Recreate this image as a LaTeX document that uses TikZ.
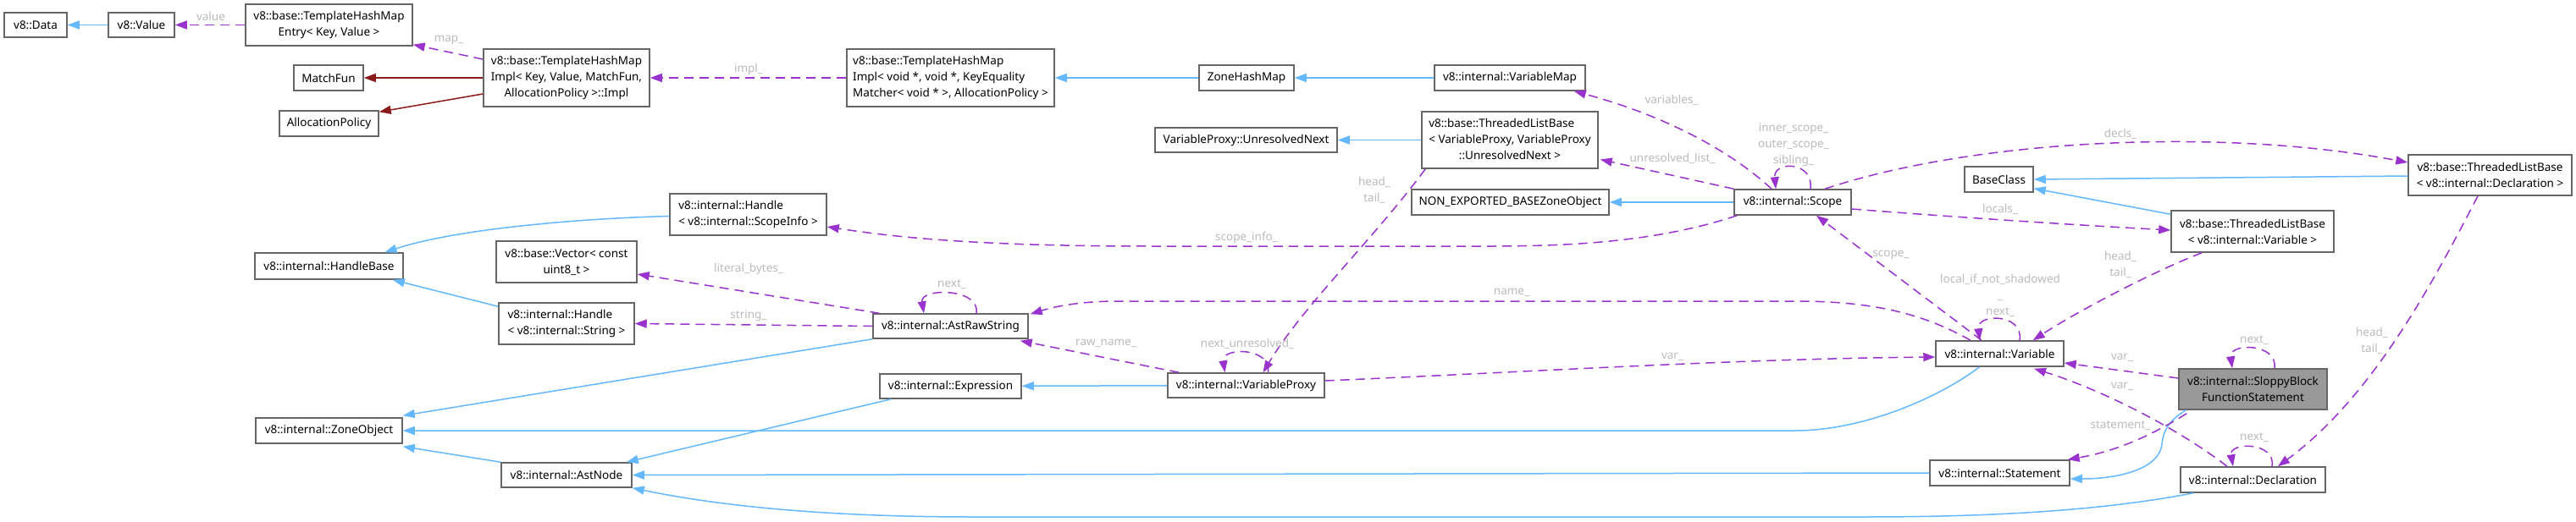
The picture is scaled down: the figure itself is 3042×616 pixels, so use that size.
\documentclass[tikz,border=0pt]{standalone}
\usepackage{fontspec}
\setmainfont{Noto Sans}
\usetikzlibrary{arrows.meta}
\definecolor{inhblue}{HTML}{63B8FF}
\definecolor{usepurple}{HTML}{9A32CD}
\definecolor{tmplred}{HTML}{8B1A1A}
\definecolor{bordergray}{HTML}{666666}
\definecolor{lblgray}{HTML}{BBBBBB}
\definecolor{mainfill}{HTML}{999999}
\begin{document}
\begin{tikzpicture}[x=1pt,y=-1pt,
  font=\fontsize{13.5}{19}\selectfont,
  box/.style={draw=bordergray, line width=1.5pt, fill=white, inner sep=0pt, align=center},
  mainbox/.style={box, fill=mainfill},
  lbl/.style={text=lblgray, inner sep=0pt, align=center},
  tip/.style={-{Triangle[length=14pt,width=10pt]}},
  inh/.style={draw=inhblue, line width=1.5pt, tip},
  usage/.style={draw=usepurple, line width=1.5pt, dash pattern=on 11pt off 7pt, tip},
  tmpl/.style={draw=tmplred, line width=1.5pt, tip},
]
\fill[white] (0,0) rectangle (3042,616);
\useasboundingbox (0,0) rectangle (3042,616);

% nodes
\node[box, minimum width=74pt, minimum height=29pt] (data) at (42,29.5) {v8::Data};
\node[box, minimum width=78pt, minimum height=29pt] (value) at (167,29.5) {v8::Value};
\node[box, minimum width=197pt, minimum height=49pt] (entry) at (388.5,29.5) {v8::base::TemplateHashMap\\Entry< Key, Value >};
\node[box, minimum width=82pt, minimum height=30pt] (matchfun) at (388,92) {MatchFun};
\node[box, minimum width=117pt, minimum height=30pt] (allocpol) at (388.5,146) {AllocationPolicy};
\node[box, minimum width=196pt, minimum height=68pt] (implkv) at (669,92) {v8::base::TemplateHashMap\\Impl< Key, Value, MatchFun,\\AllocationPolicy >::Impl};
\node[box, align=left, minimum width=245pt, minimum height=68pt] (implvoid) at (1122.5,92) {v8::base::TemplateHashMap\\Impl< void *, void *, KeyEquality\\Matcher< void * >, AllocationPolicy >};
\node[box, minimum width=112pt, minimum height=30pt] (zonehashmap) at (1472,92) {ZoneHashMap};
\node[box, minimum width=178pt, minimum height=30pt] (variablemap) at (1783,92) {v8::internal::VariableMap};
\node[box, minimum width=215pt, minimum height=29pt] (unresnext) at (1471.5,165.5) {VariableProxy::UnresolvedNext};
\node[box, minimum width=208pt, minimum height=67pt] (tlbvp) at (1783,165.5) {\begin{tabular}{@{}l@{}}v8::base::ThreadedListBase\\< VariableProxy, VariableProxy\\\multicolumn{1}{@{}c@{}}{::UnresolvedNext >}\end{tabular}};
\node[box, minimum width=233pt, minimum height=30pt] (nonexp) at (1783.5,239) {NON\_EXPORTED\_BASEZoneObject};
\node[box, minimum width=138pt, minimum height=30pt] (scope) at (2117,239) {v8::internal::Scope};
\node[box, minimum width=81pt, minimum height=30pt] (baseclass) at (2360.5,212) {BaseClass};
\node[box, minimum width=193pt, minimum height=48pt] (tlbdecl) at (2940.5,207) {v8::base::ThreadedListBase\\< v8::internal::Declaration >};
\node[box, minimum width=192pt, minimum height=49pt] (tlbvar) at (2660,273.5) {v8::base::ThreadedListBase\\< v8::internal::Variable >};
\node[box, align=left, minimum width=185pt, minimum height=49pt] (handlescope) at (883.5,253.5) {v8::internal::Handle\\< v8::internal::ScopeInfo >};
\node[box, minimum width=175pt, minimum height=31pt] (handlebase) at (388.5,314.5) {v8::internal::HandleBase};
\node[box, minimum width=166pt, minimum height=49pt] (vector) at (669,309.5) {v8::base::Vector< const\\uint8\_t >};
\node[box, align=left, minimum width=160pt, minimum height=49pt] (handlestring) at (669,382.5) {v8::internal::Handle\\< v8::internal::String >};
\node[box, minimum width=183pt, minimum height=29pt] (astrawstring) at (1122.5,385.5) {v8::internal::AstRawString};
\node[box, minimum width=167pt, minimum height=29pt] (expression) at (1122.5,456.5) {v8::internal::Expression};
\node[box, minimum width=185pt, minimum height=29pt] (varproxy) at (1471.5,455.5) {v8::internal::VariableProxy};
\node[box, minimum width=151pt, minimum height=30pt] (variable) at (2361.5,418) {v8::internal::Variable};
\node[mainbox, minimum width=175pt, minimum height=48pt] (sloppy) at (2660.5,460) {v8::internal::SloppyBlock\\FunctionStatement};
\node[box, minimum width=173pt, minimum height=30pt] (zoneobject) at (388.5,509) {v8::internal::ZoneObject};
\node[box, minimum width=154pt, minimum height=29pt] (astnode) at (669,561.5) {v8::internal::AstNode};
\node[box, minimum width=165pt, minimum height=30pt] (statement) at (2361.5,559) {v8::internal::Statement};
\node[box, minimum width=171pt, minimum height=30pt] (declaration) at (2660.5,567) {v8::internal::Declaration};

% inheritance edges
\draw[inh] (value) -- (data);
\draw[inh] (zonehashmap) -- (implvoid);
\draw[inh] (variablemap) -- (zonehashmap);
\draw[inh] (tlbvp) -- (unresnext);
\draw[inh] (scope) -- (nonexp);
\draw[inh] ([yshift=-1pt]tlbdecl.west) -- (baseclass.east);
\draw[inh] ([yshift=-5pt]tlbvar.north west) -- ([yshift=5pt]baseclass.south east);
\draw[inh] ([yshift=-2pt]handlescope.west) .. controls (690,258) and (540,270) .. ([xshift=66pt]handlebase.north);
\draw[inh] ([yshift=-5pt]handlestring.north west) -- ([xshift=-13pt]handlebase.south east);
\draw[inh] (astrawstring.south west) -- ([yshift=2pt]zoneobject.north east);
\draw[inh] ([xshift=-24pt]variable.south) .. controls (2290,470) and (2200,509) .. (2120,509) -- (zoneobject.east);
\draw[inh] (astnode.north west) -- ([yshift=-3pt]zoneobject.south east);
\draw[inh] ([xshift=14pt]expression.south west) -- ([xshift=-7pt]astnode.north east);
\draw[inh] (varproxy) -- (expression);
\draw[inh] (statement.west) -- (astnode.east);
\draw[inh] ([xshift=16pt]declaration.south west) .. controls (2480,604) and (2350,611) .. (2200,611) -- (1150,611) .. controls (950,611) and (830,594) .. (astnode.south east);
\draw[inh] ([xshift=9pt]sloppy.south west) .. controls (2565,495) and (2555,505) .. (2553,525) .. controls (2550,555) and (2500,566) .. ([yshift=-7pt]statement.east);

% template edges
\draw[tmpl] (implkv.west) -- (matchfun.east);
\draw[tmpl] ([yshift=-19pt]implkv.west) -- ([yshift=-2pt]allocpol.north east);

% usage edges
\draw[usage] (entry.west) -- (value.east);
\draw[usage] ([yshift=22pt]implkv.west) -- ([yshift=2pt]entry.south east);
\draw[usage] (implvoid.west) -- (implkv.east);
\draw[usage] ([xshift=-25pt]scope.north) .. controls (2040,175) and (1960,135) .. ([xshift=-14pt]variablemap.south east);
\draw[usage] (scope.north west) -- ([xshift=2pt,yshift=-23pt]tlbvp.east);
\draw[usage] ([xshift=21pt]scope.north) .. controls (2142,190) and (2094,190) .. ([xshift=-20pt]scope.north);
\draw[usage] ([xshift=38pt]scope.north) .. controls (2330,165) and (2620,150) .. ([yshift=15pt]tlbdecl.west);
\draw[usage] ([yshift=-8pt]scope.east) .. controls (2300,256) and (2450,266) .. ([yshift=1.5pt]tlbvar.west);
\draw[usage] ([xshift=4pt]scope.south west) .. controls (1960,285) and (1860,291) .. (1760,291) -- (1360,291) .. controls (1160,291) and (1060,281) .. ([yshift=-14.5pt]handlescope.east);
\draw[usage] ([xshift=5pt]tlbvp.south west) .. controls (1620,285) and (1540,360) .. ([xshift=20pt]varproxy.north);
\draw[usage] ([xshift=26pt]varproxy.north) .. controls (1502,410) and (1442,410) .. ([xshift=-25pt]varproxy.north);
\draw[usage] ([xshift=14pt]varproxy.north west) -- ([xshift=-10pt,yshift=-2pt]astrawstring.south east);
\draw[usage] ([yshift=5.5pt]varproxy.east) .. controls (1800,440) and (2050,424) .. ([yshift=-4pt]variable.west);
\draw[usage] ([xshift=30.5pt]astrawstring.north) .. controls (1158,340) and (1086,340) .. ([xshift=-31.5pt]astrawstring.north);
\draw[usage] ([xshift=8pt]astrawstring.north west) -- ([yshift=-14.5pt]vector.east);
\draw[usage] (astrawstring.west) -- (handlestring.east);
\draw[usage] ([xshift=-34.5pt]variable.north) .. controls (2270,370) and (2210,356) .. (2120,356) -- (1320,356) .. controls (1270,356) and (1240,364) .. ([xshift=2pt,yshift=-1pt]astrawstring.north east);
\draw[usage] ([xshift=-21.5pt]variable.north) -- ([xshift=28pt]scope.south);
\draw[usage] ([xshift=23.5pt]variable.north) .. controls (2390,370) and (2334,370) .. ([xshift=-23.5pt]variable.north);
\draw[usage] ([xshift=37pt]tlbvar.south west) .. controls (2540,322) and (2450,370) .. ([xshift=-37pt]variable.north east);
\draw[usage] ([yshift=13pt]sloppy.west) -- ([yshift=-11pt]variable.east);
\draw[usage] ([xshift=-30.5pt]declaration.north) .. controls (2570,505) and (2480,460) .. ([xshift=40.5pt,yshift=-2pt]variable.south);
\draw[usage] ([xshift=25.5pt]sloppy.north) .. controls (2690,405) and (2632,405) .. ([xshift=-24.5pt]sloppy.north);
\draw[usage] ([xshift=10pt,yshift=-4pt]sloppy.south west) .. controls (2540,515) and (2500,533) .. ([xshift=-3pt]statement.north east);
\draw[usage] ([xshift=22.5pt]declaration.north) .. controls (2688,522) and (2632,522) .. ([xshift=-23.5pt]declaration.north);
\draw[usage] ([xshift=-14.5pt]tlbdecl.south) .. controls (2870,340) and (2800,470) .. ([xshift=29.5pt]declaration.north);

% labels
\node[lbl] (lvalue) at (249,19) {value};
\node[lbl] (lmap) at (530,47) {map\_};
\node[lbl] (limpl) at (884,82) {impl\_};
\node[lbl] (lvariables) at (1974,118) {variables\_};
\node[lbl] (lunres) at (1975,187) {unresolved\_list\_};
\node[lbl] (lscopeloop) at (2118,171) {inner\_scope\_\\outer\_scope\_\\sibling\_};
\node[lbl] (ldecls) at (2504,158) {decls\_};
\node[lbl] (llocals) at (2362,247) {locals\_};
\node[lbl] (lscopeinfo) at (1472,281) {scope\_info\_};
\node[lbl] (lheadvp) at (1623,224.5) {head\_\\tail\_};
\node[lbl] (lnextunres) at (1473,406) {next\_unresolved\_};
\node[lbl] (lrawname) at (1306,406) {raw\_name\_};
\node[lbl] (lvarvp) at (1975,422) {var\_};
\node[lbl] (lnextars) at (1124,336) {next\_};
\node[lbl] (lliteral) at (884,318) {literal\_bytes\_};
\node[lbl] (lstring) at (884,373) {string\_};
\node[lbl] (lname) at (1785,346) {name\_};
\node[lbl] (lscope) at (2233,301) {scope\_};
\node[lbl] (lvarloop) at (2362,349) {local\_if\_not\_shadowed\\\_\\next\_};
\node[lbl] (lheadvar) at (2504,313) {head\_\\tail\_};
\node[lbl] (lvarsloppy) at (2506,423) {var\_};
\node[lbl] (lvardecl) at (2506,457) {var\_};
\node[lbl] (lstatement) at (2504,503) {statement\_};
\node[lbl] (lnextsloppy) at (2662,402) {next\_};
\node[lbl] (lnextdecl) at (2662,517) {next\_};
\node[lbl] (lheaddecl) at (2801,403) {head\_\\tail\_};
\end{tikzpicture}
\end{document}
